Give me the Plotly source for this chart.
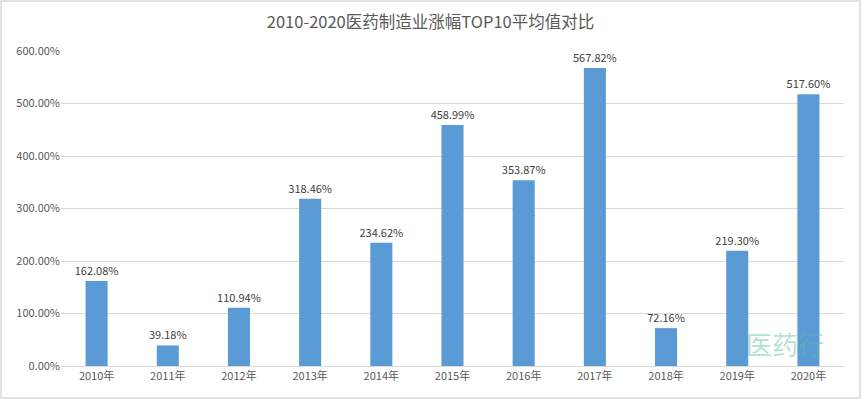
import plotly.graph_objects as go

years = ["2010年", "2011年", "2012年", "2013年", "2014年", "2015年",
         "2016年", "2017年", "2018年", "2019年", "2020年"]
values = [162.08, 39.18, 110.94, 318.46, 234.62, 458.99,
          353.87, 567.82, 72.16, 219.30, 517.60]
tick_vals = [0, 100, 200, 300, 400, 500, 600]
tick_text = ["0.00%", "100.00%", "200.00%", "300.00%", "400.00%", "500.00%", "600.00%"]
title_text = "2010-2020医药制造业涨幅TOP10平均值对比"

W, H = 861, 399
ML, MR, MT, MB = 61, 17, 51, 33
pw, ph = W - ML - MR, H - MT - MB

fig = go.Figure(go.Bar(
    x=years, y=values,
    marker=dict(color="#5B9BD5", line=dict(width=0)),
    text=[f"{v:.2f}%" for v in values],
    textposition="outside",
    constraintext="none",
    textfont=dict(size=11, color="#404040"),
    cliponaxis=False,
))

def px_x(p):
    return (p - ML) / pw

def px_y(p):
    return (H - MB - p) / ph

fig.update_layout(
    width=W, height=H,
    margin=dict(l=ML, r=MR, t=MT, b=MB, autoexpand=False),
    paper_bgcolor="white", plot_bgcolor="white",
    font=dict(family="Noto Sans CJK SC, sans-serif", color="#595959"),
    title=dict(text=title_text, x=0.5, xanchor="center", y=1 - 22 / H, yanchor="middle",
               font=dict(size=16.5, color="#595959")),
    bargap=0.69,
    showlegend=False,
    xaxis=dict(showgrid=False, showline=True, linecolor="#D9D9D9", linewidth=1,
               ticks="", automargin=False, tickfont=dict(size=11, color="#595959")),
    yaxis=dict(range=[0, 600], tickvals=tick_vals, ticktext=tick_text,
               showgrid=True, gridcolor="#D9D9D9", gridwidth=1,
               zeroline=False, showline=False, ticks="", automargin=False,
               tickfont=dict(size=11, color="#595959")),
    shapes=[dict(type="rect", xref="paper", yref="paper",
                 x0=px_x(1), x1=px_x(W - 1), y0=px_y(H - 1), y1=px_y(1),
                 line=dict(color="#D9D9D9", width=1.5), fillcolor="rgba(0,0,0,0)",
                 layer="below")],
    annotations=[
        dict(text="医药行", xref="paper", yref="paper", x=px_x(785), y=px_y(343),
             xanchor="center", yanchor="middle", showarrow=False,
             font=dict(size=26, color="rgba(80,190,150,0.45)")),
    ],
)

fig.write_html("out.html", config={"displayModeBar": False},
               post_script="document.body.style.margin='0';")
